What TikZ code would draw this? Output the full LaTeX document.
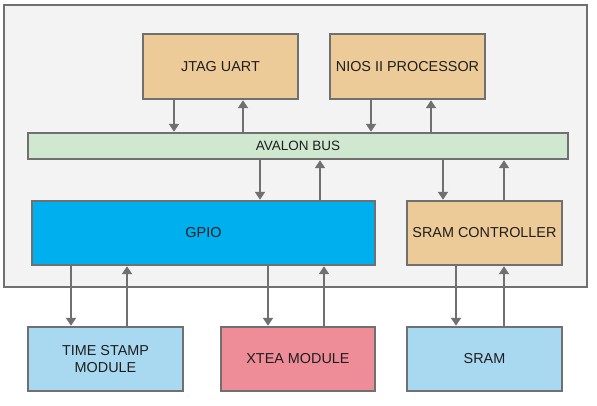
\documentclass[tikz,border=0pt]{standalone}
\usepackage{fontspec}
\setmainfont{Liberation Sans}
\usetikzlibrary{arrows.meta}
\definecolor{edge}{HTML}{707070}
\definecolor{tan}{HTML}{ECCB98}
\definecolor{busgreen}{HTML}{CFE8CF}
\definecolor{gpioblue}{HTML}{00B0EE}
\definecolor{lightblue}{HTML}{A8D9F0}
\definecolor{pinkred}{HTML}{EE8C98}
\definecolor{panel}{HTML}{F3F3F3}
\definecolor{txt}{HTML}{1E1E1E}
\begin{document}
\begin{tikzpicture}[x=1pt,y=-1pt,
  blk/.style={draw=edge,line width=2.4pt,inner sep=0pt,font=\fontsize{14.4}{17}\selectfont,text=txt,align=center},
  link/.style={draw=edge,line width=2pt,-{Triangle[width=10pt,length=8pt]}}]
\useasboundingbox (0,0) rectangle (597,406);
\fill[white] (0,0) rectangle (597,406);
\draw[draw=edge,line width=2.4pt,fill=panel] (4,5) rectangle (587,287);
% nodes
\node[blk,fill=tan,minimum width=155pt,minimum height=65pt] (jtag) at (220.5,66.5) {JTAG UART};
\node[blk,fill=tan,minimum width=155pt,minimum height=65pt] (nios) at (407.5,66.5) {NIOS II PROCESSOR};
\node[blk,fill=busgreen,minimum width=540pt,minimum height=26pt,font=\fontsize{13.5}{16}\selectfont] (bus) at (298,146) {AVALON BUS};
\node[blk,fill=gpioblue,minimum width=343pt,minimum height=64pt] (gpio) at (203.5,233) {GPIO};
\node[blk,fill=tan,minimum width=155pt,minimum height=64pt] (sctl) at (484.5,233) {SRAM CONTROLLER};
\node[blk,fill=lightblue,minimum width=155pt,minimum height=64pt] (ts) at (105.5,359) {TIME STAMP\\MODULE};
\node[blk,fill=pinkred,minimum width=154pt,minimum height=64pt] (xtea) at (298,359) {XTEA MODULE};
\node[blk,fill=lightblue,minimum width=155pt,minimum height=64pt] (sram) at (484.5,359) {SRAM};
% connectors
\draw[link] (jtag.south -| 174,0) -- (bus.north -| 174,0);
\draw[link] (bus.north -| 243,0) -- (jtag.south -| 243,0);
\draw[link] (nios.south -| 371,0) -- (bus.north -| 371,0);
\draw[link] (bus.north -| 431,0) -- (nios.south -| 431,0);
\draw[link] (bus.south -| 260,0) -- (gpio.north -| 260,0);
\draw[link] (gpio.north -| 320,0) -- (bus.south -| 320,0);
\draw[link] (bus.south -| 443,0) -- (sctl.north -| 443,0);
\draw[link] (sctl.north -| 504,0) -- (bus.south -| 504,0);
\draw[link] (gpio.south -| 71,0) -- (ts.north -| 71,0);
\draw[link] (ts.north -| 127,0) -- (gpio.south -| 127,0);
\draw[link] (gpio.south -| 268,0) -- (xtea.north -| 268,0);
\draw[link] (xtea.north -| 324,0) -- (gpio.south -| 324,0);
\draw[link] (sctl.south -| 456,0) -- (sram.north -| 456,0);
\draw[link] (sram.north -| 504,0) -- (sctl.south -| 504,0);
\end{tikzpicture}
\end{document}
